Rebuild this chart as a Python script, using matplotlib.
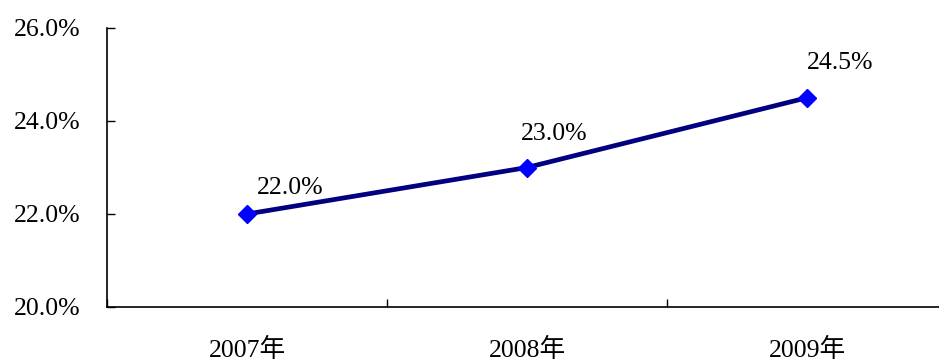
import matplotlib
matplotlib.use("Agg")
import matplotlib.pyplot as plt
from matplotlib.ticker import FixedLocator, FuncFormatter

plt.rcParams['font.family'] = ['Liberation Serif', 'Noto Sans CJK SC']

years = ["2007年", "2008年", "2009年"]
rates = [22.0, 23.0, 24.5]
label_offsets_px = [(43, 20), (27, 27), (33, 29)]

fig = plt.figure(figsize=(9.39, 3.60), dpi=100)
ax = fig.add_axes([107 / 939, 53 / 360, 840 / 939, 279 / 360])

x = list(range(len(years)))
ax.plot(x, rates, color="#000080", linewidth=3.4, marker="D", markersize=9.5,
        markerfacecolor="#0000FF", markeredgecolor="#0000FF", zorder=3,
        clip_on=False)

for xi, v, (dx, dy) in zip(x, rates, label_offsets_px):
    ax.annotate(f"{v:.1f}%", (xi, v), xytext=(dx, dy), textcoords="offset pixels",
                ha="center", va="baseline", fontsize=18.5, color="black")

ax.set_xlim(-0.5, len(years) - 0.5)
ax.set_ylim(20, 26)
ax.set_yticks([20, 22, 24, 26])
ax.yaxis.set_major_formatter(FuncFormatter(lambda v, p: f"{v:.1f}%"))

ax.xaxis.set_major_locator(FixedLocator([i + 0.5 for i in range(-1, len(years))]))
ax.xaxis.set_major_formatter(FuncFormatter(lambda v, p: ""))
ax.xaxis.set_minor_locator(FixedLocator(x))
ax.set_xticklabels(years, minor=True)

ax.tick_params(axis="y", direction="in", length=6, width=1, labelsize=18.5, pad=19)
ax.tick_params(axis="x", which="major", direction="in", length=6, width=1)
ax.tick_params(axis="x", which="minor", length=0, labelsize=18.5, pad=22)

for s in ["top", "right"]:
    ax.spines[s].set_visible(False)
for s in ["left", "bottom"]:
    ax.spines[s].set_linewidth(1.2)
    ax.spines[s].set_color("black")

fig.savefig("out.png", dpi=100)
